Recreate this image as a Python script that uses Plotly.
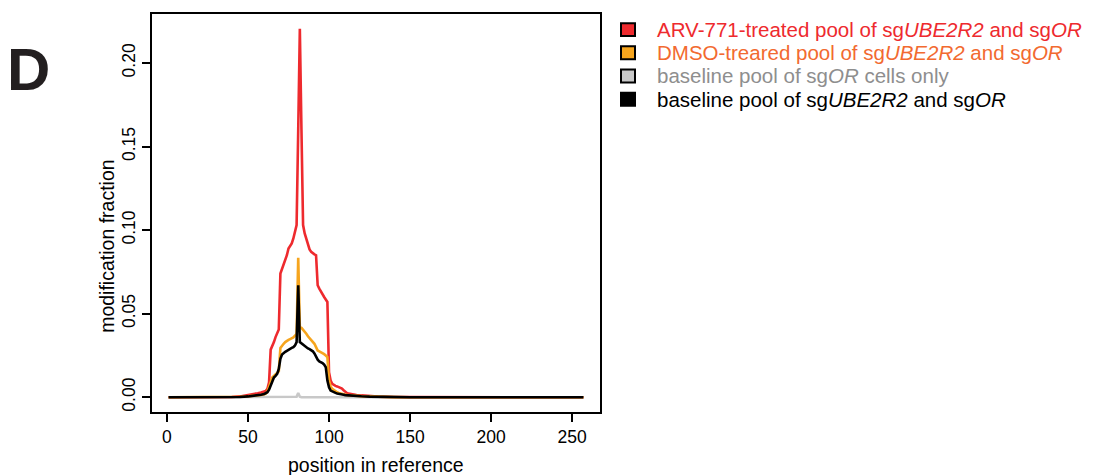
import plotly.graph_objects as go

# ---------------- data ----------------
positions = [1, 20, 40, 45, 50, 52, 54, 56, 58, 60,
             61, 62, 63, 64, 65, 66, 67, 68, 69, 70,
             71, 72, 73, 74, 75, 76, 77, 78, 79, 80,
             81, 82, 83, 84, 85, 86, 87, 88, 89, 90,
             91, 92, 93, 94, 95, 96, 97, 98, 99, 100,
             101, 102, 103, 104, 105, 106, 107, 108, 109, 110,
             111, 112, 114, 117, 120, 125, 130, 140, 150, 257]

arv771 = [0, 0, 0.0002, 0.0005, 0.0012, 0.0016, 0.0020, 0.0024, 0.0028, 0.0034,
          0.0038, 0.0050, 0.0090, 0.0285, 0.0305, 0.0330, 0.0360, 0.0385, 0.0405, 0.0740,
          0.0765, 0.0800, 0.0820, 0.0850, 0.0890, 0.0905, 0.0920, 0.0950, 0.0990, 0.1030,
          0.1600, 0.2205, 0.1600, 0.1030, 0.0980, 0.0950, 0.0910, 0.0885, 0.0870, 0.0860,
          0.0855, 0.0850, 0.0670, 0.0650, 0.0630, 0.0610, 0.0600, 0.0585, 0.0570, 0.0150,
          0.0100, 0.0080, 0.0072, 0.0068, 0.0065, 0.0062, 0.0058, 0.0052, 0.0042, 0.0032,
          0.0026, 0.0022, 0.0018, 0.0014, 0.0011, 0.0007, 0.0004, 0.0002, 0.0001, 0]

dmso = [0, 0, 0.0001, 0.0003, 0.0006, 0.0007, 0.0009, 0.0011, 0.0014, 0.0018,
        0.0022, 0.0035, 0.0065, 0.0100, 0.0118, 0.0128, 0.0138, 0.0145, 0.0155, 0.0295,
        0.0310, 0.0320, 0.0330, 0.0338, 0.0343, 0.0348, 0.0352, 0.0358, 0.0368, 0.0380,
        0.0835, 0.0420, 0.0415, 0.0405, 0.0395, 0.0380, 0.0365, 0.0355, 0.0340, 0.0335,
        0.0320, 0.0300, 0.0280, 0.0275, 0.0270, 0.0265, 0.0258, 0.0250, 0.0240, 0.0100,
        0.0065, 0.0050, 0.0042, 0.0036, 0.0030, 0.0026, 0.0023, 0.0020, 0.0018, 0.0016,
        0.0014, 0.0013, 0.0011, 0.0009, 0.0007, 0.0005, 0.0003, 0.0001, 0, 0]

baseline_or = [0, 0, 0, 0, 0, 0, 0, 0, 0, 0,
               0, 0, 0, 0, 0, 0, 0, 0, 0, 0,
               0, 0, 0, 0, 0, 0, 0, 0, 0, 0.0003,
               0.0025, 0.0003, 0, 0, 0, 0, 0, 0, 0, 0,
               0, 0, 0, 0, 0, 0, 0, 0, 0, 0,
               0, 0, 0, 0, 0, 0, 0, 0, 0, 0,
               0, 0, 0, 0, 0, 0, 0, 0, 0, 0]

baseline_ube = [0, 0, 0.0001, 0.0002, 0.0005, 0.0007, 0.0009, 0.0011, 0.0015, 0.0020,
                0.0024, 0.0030, 0.0045, 0.0070, 0.0105, 0.0118, 0.0128, 0.0140, 0.0170, 0.0230,
                0.0255, 0.0265, 0.0272, 0.0278, 0.0285, 0.0290, 0.0295, 0.0300, 0.0310, 0.0330,
                0.0670, 0.0330, 0.0322, 0.0312, 0.0303, 0.0298, 0.0292, 0.0288, 0.0282, 0.0275,
                0.0262, 0.0240, 0.0225, 0.0215, 0.0210, 0.0205, 0.0195, 0.0180, 0.0100, 0.0060,
                0.0040, 0.0034, 0.0030, 0.0026, 0.0023, 0.0020, 0.0018, 0.0016, 0.0015, 0.0013,
                0.0012, 0.0011, 0.0009, 0.0008, 0.0006, 0.0004, 0.0003, 0.0001, 0, 0]

x_ticks = [0, 50, 100, 150, 200, 250]
y_ticks = [0.00, 0.05, 0.10, 0.15, 0.20]

legend_labels = [
    "ARV-771-treated pool of sg<i>UBE2R2</i> and sg<i>OR</i>",
    "DMSO-treared pool of sg<i>UBE2R2</i> and sg<i>OR</i>",
    "baseline pool of sg<i>OR</i> cells only",
    "baseline pool of sg<i>UBE2R2</i> and sg<i>OR</i>",
]

# ---------------- styling ----------------
RED = "#EE2A2E"
ORANGE = "#F6A51E"
GRAY = "#C8C8C8"
BLACK = "#000000"
swatch_colors = [RED, ORANGE, GRAY, BLACK]
text_colors = ["#EE2A2E", "#F26A30", "#8E8E8E", "#000000"]
FONT = "Liberation Sans, Arial, sans-serif"
TICK_SIZE = 17.5
TITLE_SIZE = 19.5
LEGEND_SIZE = 20.5

W, H = 1110, 475
L, T, PW, PH = 152, 12, 448, 400


def px(x):
    return (x - L) / PW


def py(y):
    return (T + PH - y) / PH


fig = go.Figure()
for vals, col in [(baseline_or, GRAY), (arv771, RED), (dmso, ORANGE), (baseline_ube, BLACK)]:
    fig.add_trace(go.Scatter(x=positions, y=vals, mode="lines",
                             line=dict(color=col, width=2.6), showlegend=False,
                             hoverinfo="skip"))

shapes = []
annotations = []
row_y = [27.7, 51.0, 74.3, 97.7]
for i, (lab, sc, tc) in enumerate(zip(legend_labels, swatch_colors, text_colors)):
    cy = row_y[i]
    shapes.append(dict(type="rect", xref="paper", yref="paper",
                       x0=px(621), x1=px(635), y0=py(cy + 6.5), y1=py(cy - 6.5),
                       fillcolor=sc, line=dict(color="black", width=2)))
    annotations.append(dict(text=lab, xref="paper", yref="paper", x=px(655), y=py(cy),
                            xanchor="left", yanchor="middle", showarrow=False,
                            font=dict(family=FONT, size=LEGEND_SIZE, color=tc)))

annotations.append(dict(text="<b>D</b>", xref="paper", yref="paper", x=px(29), y=py(68),
                        xanchor="center", yanchor="middle", showarrow=False,
                        font=dict(family=FONT, size=60, color="#231F20")))
annotations.append(dict(text="modification fraction", xref="paper", yref="paper",
                        x=px(107), y=py(246), xanchor="center", yanchor="middle",
                        textangle=-90, showarrow=False,
                        font=dict(family=FONT, size=TITLE_SIZE, color="black")))
annotations.append(dict(text="position in reference", xref="paper", yref="paper",
                        x=px(376), y=py(465), xanchor="center", yanchor="middle",
                        showarrow=False, font=dict(family=FONT, size=TITLE_SIZE, color="black")))

fig.update_layout(
    width=W, height=H,
    margin=dict(l=L, r=W - L - PW, t=T, b=H - T - PH, pad=0),
    paper_bgcolor="white", plot_bgcolor="white",
    font=dict(family=FONT, size=TICK_SIZE, color="black"),
    shapes=shapes, annotations=annotations,
    xaxis=dict(range=[-9.24, 267.24], tickvals=x_ticks, ticktext=[str(v) for v in x_ticks],
               showgrid=False, zeroline=False, showline=True, mirror=True,
               linecolor="black", linewidth=2, ticks="outside", ticklen=8,
               tickwidth=2, tickcolor="black", tickfont=dict(size=TICK_SIZE)),
    yaxis=dict(range=[-0.00882, 0.22932], tickvals=y_ticks,
               ticktext=["%.2f" % v for v in y_ticks], tickangle=-90,
               showgrid=False, zeroline=False, showline=True, mirror=True,
               linecolor="black", linewidth=2, ticks="outside", ticklen=8,
               tickwidth=2, tickcolor="black", tickfont=dict(size=TICK_SIZE)),
)

fig.write_html("out.html")
